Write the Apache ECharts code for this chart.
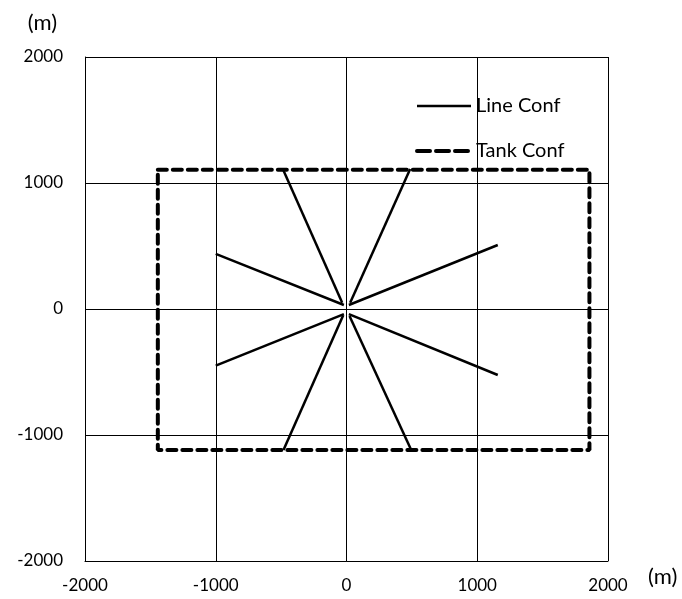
<!DOCTYPE html>
<html>
<head>
<meta charset="utf-8">
<script src="https://cdn.jsdelivr.net/npm/echarts@6/dist/echarts.min.js"></script>
<style>
html,body{margin:0;padding:0;background:#fff;}
#chart{width:682px;height:599px;}
</style>
</head>
<body>
<div id="chart"></div>
<script>
// Axis ticks
var xTicks = [-2000, -1000, 0, 1000, 2000];
var yTicks = [-2000, -1000, 0, 1000, 2000];

// Line Conf: eight radial rays (outer end / inner end)
var rayOuterX = [-487, 487, -1000, 1157, -1000, 1157, -482, 495];
var rayOuterY = [1111, 1111, 437, 508, -450, -524, -1119, -1119];
var rayInnerX = [-33, 28, -20, 18, -20, 18, -25, 23];
var rayInnerY = [50, 50, 32, 32, -40, -40, -50, -55];

// Tank Conf: rectangle corners
var tankX = [-1443, 1858];
var tankY = [1105, -1120];

var FONT = 'Lato';

var series = [];
for (var i = 0; i < rayOuterX.length; i++) {
  series.push({
    name: 'Line Conf',
    type: 'line',
    symbol: 'none',
    silent: true,
    itemStyle: { color: '#000' },
    lineStyle: { color: '#000', width: 2.5 },
    data: [[rayOuterX[i], rayOuterY[i]], [rayInnerX[i], rayInnerY[i]]]
  });
}
series.push({
  name: 'Tank Conf',
  type: 'line',
  symbol: 'none',
  silent: true,
  itemStyle: { color: '#000' },
  lineStyle: { color: '#000', width: 4, type: [9, 6], cap: 'round' },
  data: [
    [tankX[0], tankY[0]], [tankX[1], tankY[0]],
    [tankX[1], tankY[1]], [tankX[0], tankY[1]],
    [tankX[0], tankY[0]]
  ]
});

var chart = echarts.init(document.getElementById('chart'), null, { renderer: 'canvas' });
chart.setOption({
  animation: false,
  backgroundColor: '#fff',
  textStyle: { fontFamily: FONT },
  grid: { left: 85, right: 74, top: 57, bottom: 38, containLabel: false, outerBoundsMode: 'none' },
  legend: {
    orient: 'vertical',
    left: 410,
    top: 91,
    itemWidth: 54,
    itemHeight: 20,
    itemGap: 25,
    itemStyle: { opacity: 0 },
    textStyle: { fontFamily: FONT, fontSize: 20, color: '#000', padding: [0, 0, 0, 0] },
    data: [
      { name: 'Line Conf', lineStyle: { color: '#000', width: 2.5, type: 'solid' } },
      { name: 'Tank Conf', lineStyle: { color: '#000', width: 4, type: [13, 6], cap: 'round' } }
    ]
  },
  xAxis: {
    type: 'value',
    min: xTicks[0],
    max: xTicks[xTicks.length - 1],
    interval: 1000,
    name: '(m)',
    nameLocation: 'end',
    nameGap: 40,
    nameMoveOverlap: false,
    nameTextStyle: { fontFamily: FONT, fontSize: 22, color: '#000', align: 'left', verticalAlign: 'top', padding: [5, 0, 0, 0] },
    axisLine: { show: true, onZero: false, lineStyle: { color: '#000', width: 1 } },
    axisTick: { show: false },
    axisLabel: { fontFamily: FONT, fontSize: 17, color: '#000', margin: 16, formatter: function (v) { return String(v); } },
    splitLine: { show: true, lineStyle: { color: '#000', width: 1 } }
  },
  yAxis: {
    type: 'value',
    min: yTicks[0],
    max: yTicks[yTicks.length - 1],
    interval: 1000,
    name: '(m)',
    nameLocation: 'end',
    nameGap: 34,
    nameMoveOverlap: false,
    nameTextStyle: { fontFamily: FONT, fontSize: 22, color: '#000', align: 'right', verticalAlign: 'middle', padding: [0, 28, 0, 0] },
    axisLine: { show: true, onZero: false, lineStyle: { color: '#000', width: 1 } },
    axisTick: { show: false },
    axisLabel: { fontFamily: FONT, fontSize: 17, color: '#000', margin: 22, formatter: function (v) { return String(v); } },
    splitLine: { show: true, lineStyle: { color: '#000', width: 1 } }
  },
  series: series
});
</script>
</body>
</html>
